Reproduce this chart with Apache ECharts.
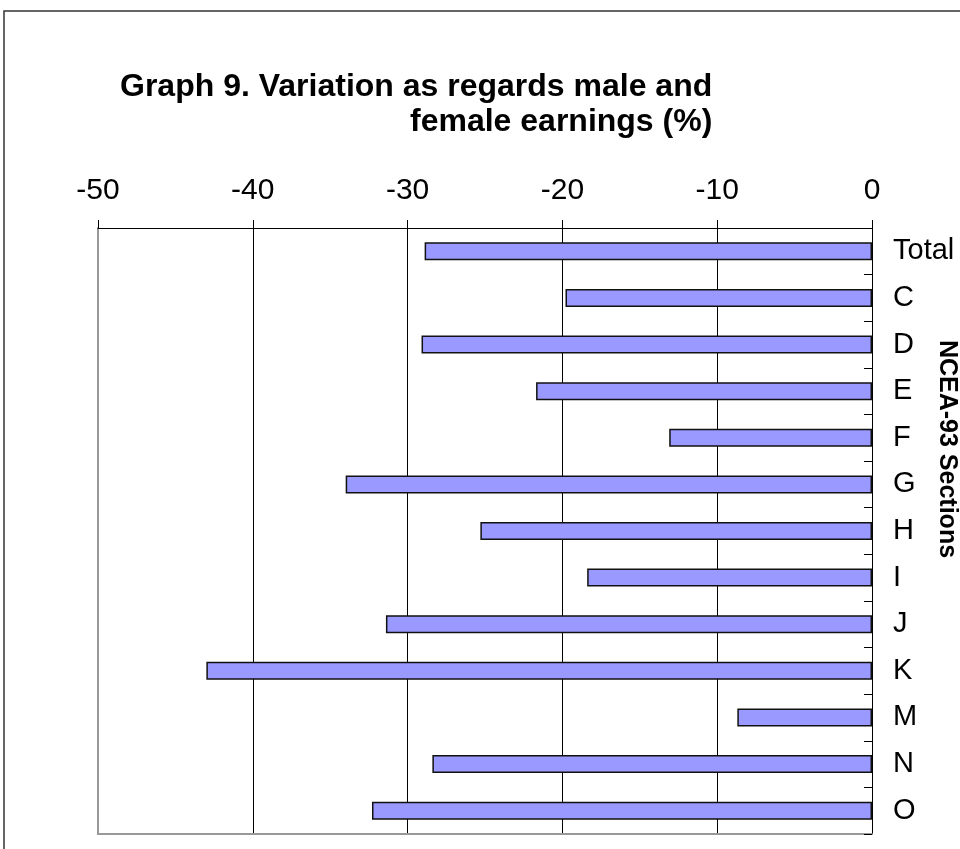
<!DOCTYPE html>
<html>
<head>
<meta charset="utf-8">
<script src="https://cdn.jsdelivr.net/npm/echarts@6/dist/echarts.min.js"></script>
<style>
html,body{margin:0;padding:0;background:#fff;}
#chart{width:960px;height:849px;}
</style>
</head>
<body>
<div id="chart"></div>
<script>
const categories = ['Total','C','D','E','F','G','H','I','J','K','M','N','O'];
const values = [-28.9, -19.8, -29.1, -21.7, -13.1, -34.0, -25.3, -18.4, -31.4, -43.0, -8.7, -28.4, -32.3];
const titleLine1 = 'Graph 9. Variation as regards male and';
const titleLine2 = 'female earnings (%)';
const axisName = 'NCEA-93 Sections';

const chart = echarts.init(document.getElementById('chart'), null, {renderer:'canvas'});
const font = 'Liberation Sans, Arial, sans-serif';
chart.setOption({
  backgroundColor:'#fff',
  animation:false,
  textStyle:{fontFamily:font},
  title:[
    {text:titleLine1, left:120, top:71, padding:0,
     textStyle:{fontFamily:font, fontSize:32, fontWeight:'bold', color:'#000'}},
    {text:titleLine2, left:410, top:106, padding:0,
     textStyle:{fontFamily:font, fontSize:32, fontWeight:'bold', color:'#000'}}
  ],
  graphic:[
    {type:'rect', shape:{x:4, y:11, width:1100, height:1100}, style:{fill:'none', stroke:'#333', lineWidth:1.5}, silent:true, z:-1}
  ],
  grid:{left:98, right:88, top:228, bottom:15, containLabel:false, outerBoundsMode:'none'},
  xAxis:[
    {type:'value', position:'top', min:-50, max:0, interval:10,
     axisLine:{show:true, onZero:false, lineStyle:{color:'#000', width:1}},
     axisTick:{show:true, inside:false, length:8, lineStyle:{color:'#000'}},
     axisLabel:{margin:22, fontSize:30, color:'#000', fontFamily:font},
     splitLine:{show:true, showMinLine:false, showMaxLine:false, lineStyle:{color:'#000', width:1}}},
    {type:'value', position:'bottom', min:-50, max:0, interval:10,
     axisLine:{show:true, onZero:false, lineStyle:{color:'#999', width:2}},
     axisTick:{show:false}, axisLabel:{show:false}, splitLine:{show:false}}
  ],
  yAxis:[
    {type:'category', position:'right', inverse:true, data:categories,
     axisLine:{show:true, onZero:false, lineStyle:{color:'#000', width:1}},
     axisTick:{show:true, inside:true, length:8, lineStyle:{color:'#000'}},
     axisLabel:{margin:21, fontSize:29, color:'#000', fontFamily:font},
     name:axisName, nameLocation:'middle', nameRotate:-90, nameGap:62, nameMoveOverlap:false,
     nameTextStyle:{fontSize:25, fontWeight:'bold', color:'#000', fontFamily:font, padding:[0,164,0,0]}},
    {type:'category', position:'left', inverse:true, data:categories,
     axisLine:{show:true, onZero:false, lineStyle:{color:'#999', width:2}},
     axisTick:{show:false}, axisLabel:{show:false}, splitLine:{show:false}}
  ],
  series:[{
    type:'bar', xAxisIndex:0, yAxisIndex:0, data:values, barWidth:18,
    itemStyle:{color:'#9999ff', borderColor:'#111', borderWidth:1.5},
    silent:true
  }]
});
</script>
</body>
</html>
